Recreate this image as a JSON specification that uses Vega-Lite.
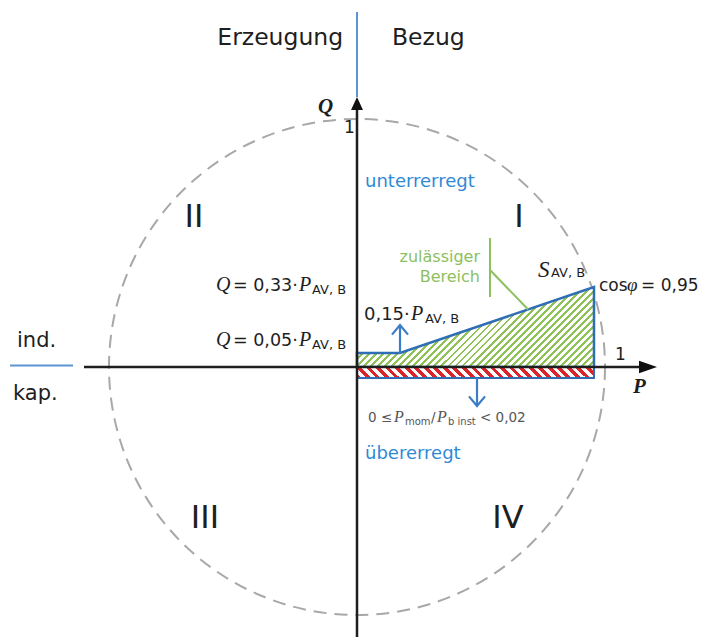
{
"$schema":"https://vega.github.io/schema/vega-lite/v6.json",
"width":704,"height":637,"padding":0,"autosize":{"type":"none"},
"background":"white",
"config":{"view":{"stroke":null}},
"encoding":{
 "x":{"field":"p","type":"quantitative","scale":{"domain":[-1.43952,1.39919],"nice":false,"zero":false},"axis":null},
 "y":{"field":"q","type":"quantitative","scale":{"domain":[-1.08871,1.47984],"nice":false,"zero":false},"axis":null}
},
"layer":[
 {"data":{"values":[{"p":0,"q":0}]},
  "mark":{"type":"point","shape":"circle","filled":false,"size":246016,"stroke":"#a8a8a8","strokeWidth":2,"strokeDash":[13,8],"opacity":1}},
 {"data":{"values":[{"p":0,"q":0.0565,"q2":0},{"p":0.1734,"q":0.0565,"q2":0},{"p":0.9556,"q":0.3226,"q2":0}]},
  "mark":{"type":"area","stroke":"#2f6db5","strokeWidth":2.5,"strokeJoin":"miter","opacity":1,
   "fill":{"gradient":"linear","x1":0,"y1":0,"x2":1.2007,"y2":0.4054,"stops":[
{"offset":0,"color":"#8ec255"},{"offset":0.0089,"color":"#8ec255"},{"offset":0.0089,"color":"#fff"},{"offset":0.0222,"color":"#fff"},
{"offset":0.0222,"color":"#8ec255"},{"offset":0.0311,"color":"#8ec255"},{"offset":0.0311,"color":"#fff"},{"offset":0.0444,"color":"#fff"},
{"offset":0.0444,"color":"#8ec255"},{"offset":0.0533,"color":"#8ec255"},{"offset":0.0533,"color":"#fff"},{"offset":0.0667,"color":"#fff"},
{"offset":0.0667,"color":"#8ec255"},{"offset":0.0756,"color":"#8ec255"},{"offset":0.0756,"color":"#fff"},{"offset":0.0889,"color":"#fff"},
{"offset":0.0889,"color":"#8ec255"},{"offset":0.0978,"color":"#8ec255"},{"offset":0.0978,"color":"#fff"},{"offset":0.1111,"color":"#fff"},
{"offset":0.1111,"color":"#8ec255"},{"offset":0.12,"color":"#8ec255"},{"offset":0.12,"color":"#fff"},{"offset":0.1333,"color":"#fff"},
{"offset":0.1333,"color":"#8ec255"},{"offset":0.1422,"color":"#8ec255"},{"offset":0.1422,"color":"#fff"},{"offset":0.1556,"color":"#fff"},
{"offset":0.1556,"color":"#8ec255"},{"offset":0.1644,"color":"#8ec255"},{"offset":0.1644,"color":"#fff"},{"offset":0.1778,"color":"#fff"},
{"offset":0.1778,"color":"#8ec255"},{"offset":0.1867,"color":"#8ec255"},{"offset":0.1867,"color":"#fff"},{"offset":0.2,"color":"#fff"},
{"offset":0.2,"color":"#8ec255"},{"offset":0.2089,"color":"#8ec255"},{"offset":0.2089,"color":"#fff"},{"offset":0.2222,"color":"#fff"},
{"offset":0.2222,"color":"#8ec255"},{"offset":0.2311,"color":"#8ec255"},{"offset":0.2311,"color":"#fff"},{"offset":0.2444,"color":"#fff"},
{"offset":0.2444,"color":"#8ec255"},{"offset":0.2533,"color":"#8ec255"},{"offset":0.2533,"color":"#fff"},{"offset":0.2667,"color":"#fff"},
{"offset":0.2667,"color":"#8ec255"},{"offset":0.2756,"color":"#8ec255"},{"offset":0.2756,"color":"#fff"},{"offset":0.2889,"color":"#fff"},
{"offset":0.2889,"color":"#8ec255"},{"offset":0.2978,"color":"#8ec255"},{"offset":0.2978,"color":"#fff"},{"offset":0.3111,"color":"#fff"},
{"offset":0.3111,"color":"#8ec255"},{"offset":0.32,"color":"#8ec255"},{"offset":0.32,"color":"#fff"},{"offset":0.3333,"color":"#fff"},
{"offset":0.3333,"color":"#8ec255"},{"offset":0.3422,"color":"#8ec255"},{"offset":0.3422,"color":"#fff"},{"offset":0.3556,"color":"#fff"},
{"offset":0.3556,"color":"#8ec255"},{"offset":0.3644,"color":"#8ec255"},{"offset":0.3644,"color":"#fff"},{"offset":0.3778,"color":"#fff"},
{"offset":0.3778,"color":"#8ec255"},{"offset":0.3867,"color":"#8ec255"},{"offset":0.3867,"color":"#fff"},{"offset":0.4,"color":"#fff"},
{"offset":0.4,"color":"#8ec255"},{"offset":0.4089,"color":"#8ec255"},{"offset":0.4089,"color":"#fff"},{"offset":0.4222,"color":"#fff"},
{"offset":0.4222,"color":"#8ec255"},{"offset":0.4311,"color":"#8ec255"},{"offset":0.4311,"color":"#fff"},{"offset":0.4444,"color":"#fff"},
{"offset":0.4444,"color":"#8ec255"},{"offset":0.4533,"color":"#8ec255"},{"offset":0.4533,"color":"#fff"},{"offset":0.4667,"color":"#fff"},
{"offset":0.4667,"color":"#8ec255"},{"offset":0.4756,"color":"#8ec255"},{"offset":0.4756,"color":"#fff"},{"offset":0.4889,"color":"#fff"},
{"offset":0.4889,"color":"#8ec255"},{"offset":0.4978,"color":"#8ec255"},{"offset":0.4978,"color":"#fff"},{"offset":0.5111,"color":"#fff"},
{"offset":0.5111,"color":"#8ec255"},{"offset":0.52,"color":"#8ec255"},{"offset":0.52,"color":"#fff"},{"offset":0.5333,"color":"#fff"},
{"offset":0.5333,"color":"#8ec255"},{"offset":0.5422,"color":"#8ec255"},{"offset":0.5422,"color":"#fff"},{"offset":0.5556,"color":"#fff"},
{"offset":0.5556,"color":"#8ec255"},{"offset":0.5644,"color":"#8ec255"},{"offset":0.5644,"color":"#fff"},{"offset":0.5778,"color":"#fff"},
{"offset":0.5778,"color":"#8ec255"},{"offset":0.5867,"color":"#8ec255"},{"offset":0.5867,"color":"#fff"},{"offset":0.6,"color":"#fff"},
{"offset":0.6,"color":"#8ec255"},{"offset":0.6089,"color":"#8ec255"},{"offset":0.6089,"color":"#fff"},{"offset":0.6222,"color":"#fff"},
{"offset":0.6222,"color":"#8ec255"},{"offset":0.6311,"color":"#8ec255"},{"offset":0.6311,"color":"#fff"},{"offset":0.6444,"color":"#fff"},
{"offset":0.6444,"color":"#8ec255"},{"offset":0.6533,"color":"#8ec255"},{"offset":0.6533,"color":"#fff"},{"offset":0.6667,"color":"#fff"},
{"offset":0.6667,"color":"#8ec255"},{"offset":0.6756,"color":"#8ec255"},{"offset":0.6756,"color":"#fff"},{"offset":0.6889,"color":"#fff"},
{"offset":0.6889,"color":"#8ec255"},{"offset":0.6978,"color":"#8ec255"},{"offset":0.6978,"color":"#fff"},{"offset":0.7111,"color":"#fff"},
{"offset":0.7111,"color":"#8ec255"},{"offset":0.72,"color":"#8ec255"},{"offset":0.72,"color":"#fff"},{"offset":0.7333,"color":"#fff"},
{"offset":0.7333,"color":"#8ec255"},{"offset":0.7422,"color":"#8ec255"},{"offset":0.7422,"color":"#fff"},{"offset":0.7556,"color":"#fff"},
{"offset":0.7556,"color":"#8ec255"},{"offset":0.7644,"color":"#8ec255"},{"offset":0.7644,"color":"#fff"},{"offset":0.7778,"color":"#fff"},
{"offset":0.7778,"color":"#8ec255"},{"offset":0.7867,"color":"#8ec255"},{"offset":0.7867,"color":"#fff"},{"offset":0.8,"color":"#fff"},
{"offset":0.8,"color":"#8ec255"},{"offset":0.8089,"color":"#8ec255"},{"offset":0.8089,"color":"#fff"},{"offset":0.8222,"color":"#fff"},
{"offset":0.8222,"color":"#8ec255"},{"offset":0.8311,"color":"#8ec255"},{"offset":0.8311,"color":"#fff"},{"offset":0.8444,"color":"#fff"},
{"offset":0.8444,"color":"#8ec255"},{"offset":0.8533,"color":"#8ec255"},{"offset":0.8533,"color":"#fff"},{"offset":0.8667,"color":"#fff"},
{"offset":0.8667,"color":"#8ec255"},{"offset":0.8756,"color":"#8ec255"},{"offset":0.8756,"color":"#fff"},{"offset":0.8889,"color":"#fff"},
{"offset":0.8889,"color":"#8ec255"},{"offset":0.8978,"color":"#8ec255"},{"offset":0.8978,"color":"#fff"},{"offset":0.9111,"color":"#fff"},
{"offset":0.9111,"color":"#8ec255"},{"offset":0.92,"color":"#8ec255"},{"offset":0.92,"color":"#fff"},{"offset":0.9333,"color":"#fff"},
{"offset":0.9333,"color":"#8ec255"},{"offset":0.9422,"color":"#8ec255"},{"offset":0.9422,"color":"#fff"},{"offset":0.9556,"color":"#fff"},
{"offset":0.9556,"color":"#8ec255"},{"offset":0.9644,"color":"#8ec255"},{"offset":0.9644,"color":"#fff"},{"offset":0.9778,"color":"#fff"},
{"offset":0.9778,"color":"#8ec255"},{"offset":0.9867,"color":"#8ec255"},{"offset":0.9867,"color":"#fff"},{"offset":1,"color":"#fff"}
]}},
  "encoding":{"y2":{"field":"q2"}}},
 {"data":{"values":[{"p":0,"p2":0.9556,"q":0,"q2":-0.044}]},
  "mark":{"type":"rect","stroke":"#2f6db5","strokeWidth":2,"opacity":1,
   "fill":{"gradient":"linear","x1":0,"y1":1,"x2":1.0442,"y2":0.9515,"stops":[
{"offset":0,"color":"#d8262b"},{"offset":0.0192,"color":"#d8262b"},{"offset":0.0192,"color":"#fff"},{"offset":0.0385,"color":"#fff"},
{"offset":0.0385,"color":"#d8262b"},{"offset":0.0577,"color":"#d8262b"},{"offset":0.0577,"color":"#fff"},{"offset":0.0769,"color":"#fff"},
{"offset":0.0769,"color":"#d8262b"},{"offset":0.0962,"color":"#d8262b"},{"offset":0.0962,"color":"#fff"},{"offset":0.1154,"color":"#fff"},
{"offset":0.1154,"color":"#d8262b"},{"offset":0.1346,"color":"#d8262b"},{"offset":0.1346,"color":"#fff"},{"offset":0.1538,"color":"#fff"},
{"offset":0.1538,"color":"#d8262b"},{"offset":0.1731,"color":"#d8262b"},{"offset":0.1731,"color":"#fff"},{"offset":0.1923,"color":"#fff"},
{"offset":0.1923,"color":"#d8262b"},{"offset":0.2115,"color":"#d8262b"},{"offset":0.2115,"color":"#fff"},{"offset":0.2308,"color":"#fff"},
{"offset":0.2308,"color":"#d8262b"},{"offset":0.25,"color":"#d8262b"},{"offset":0.25,"color":"#fff"},{"offset":0.2692,"color":"#fff"},
{"offset":0.2692,"color":"#d8262b"},{"offset":0.2885,"color":"#d8262b"},{"offset":0.2885,"color":"#fff"},{"offset":0.3077,"color":"#fff"},
{"offset":0.3077,"color":"#d8262b"},{"offset":0.3269,"color":"#d8262b"},{"offset":0.3269,"color":"#fff"},{"offset":0.3462,"color":"#fff"},
{"offset":0.3462,"color":"#d8262b"},{"offset":0.3654,"color":"#d8262b"},{"offset":0.3654,"color":"#fff"},{"offset":0.3846,"color":"#fff"},
{"offset":0.3846,"color":"#d8262b"},{"offset":0.4038,"color":"#d8262b"},{"offset":0.4038,"color":"#fff"},{"offset":0.4231,"color":"#fff"},
{"offset":0.4231,"color":"#d8262b"},{"offset":0.4423,"color":"#d8262b"},{"offset":0.4423,"color":"#fff"},{"offset":0.4615,"color":"#fff"},
{"offset":0.4615,"color":"#d8262b"},{"offset":0.4808,"color":"#d8262b"},{"offset":0.4808,"color":"#fff"},{"offset":0.5,"color":"#fff"},
{"offset":0.5,"color":"#d8262b"},{"offset":0.5192,"color":"#d8262b"},{"offset":0.5192,"color":"#fff"},{"offset":0.5385,"color":"#fff"},
{"offset":0.5385,"color":"#d8262b"},{"offset":0.5577,"color":"#d8262b"},{"offset":0.5577,"color":"#fff"},{"offset":0.5769,"color":"#fff"},
{"offset":0.5769,"color":"#d8262b"},{"offset":0.5962,"color":"#d8262b"},{"offset":0.5962,"color":"#fff"},{"offset":0.6154,"color":"#fff"},
{"offset":0.6154,"color":"#d8262b"},{"offset":0.6346,"color":"#d8262b"},{"offset":0.6346,"color":"#fff"},{"offset":0.6538,"color":"#fff"},
{"offset":0.6538,"color":"#d8262b"},{"offset":0.6731,"color":"#d8262b"},{"offset":0.6731,"color":"#fff"},{"offset":0.6923,"color":"#fff"},
{"offset":0.6923,"color":"#d8262b"},{"offset":0.7115,"color":"#d8262b"},{"offset":0.7115,"color":"#fff"},{"offset":0.7308,"color":"#fff"},
{"offset":0.7308,"color":"#d8262b"},{"offset":0.75,"color":"#d8262b"},{"offset":0.75,"color":"#fff"},{"offset":0.7692,"color":"#fff"},
{"offset":0.7692,"color":"#d8262b"},{"offset":0.7885,"color":"#d8262b"},{"offset":0.7885,"color":"#fff"},{"offset":0.8077,"color":"#fff"},
{"offset":0.8077,"color":"#d8262b"},{"offset":0.8269,"color":"#d8262b"},{"offset":0.8269,"color":"#fff"},{"offset":0.8462,"color":"#fff"},
{"offset":0.8462,"color":"#d8262b"},{"offset":0.8654,"color":"#d8262b"},{"offset":0.8654,"color":"#fff"},{"offset":0.8846,"color":"#fff"},
{"offset":0.8846,"color":"#d8262b"},{"offset":0.9038,"color":"#d8262b"},{"offset":0.9038,"color":"#fff"},{"offset":0.9231,"color":"#fff"},
{"offset":0.9231,"color":"#d8262b"},{"offset":0.9423,"color":"#d8262b"},{"offset":0.9423,"color":"#fff"},{"offset":0.9615,"color":"#fff"},
{"offset":0.9615,"color":"#d8262b"},{"offset":0.9808,"color":"#d8262b"},{"offset":0.9808,"color":"#fff"},{"offset":1,"color":"#fff"}
]}},
  "encoding":{"x2":{"field":"p2"},"y2":{"field":"q2"}}},
 {"data":{"values":[{"p":-1.1008,"p2":1.14,"q":0,"q2":0},{"p":0,"p2":0,"q":-1.0887,"q2":1.04}]},
  "mark":{"type":"rule","color":"#1e1e1e","strokeWidth":2.5},
  "encoding":{"x2":{"field":"p2"},"y2":{"field":"q2"}}},
 {"data":{"values":[{"p":0,"q":1.0887}]},
  "mark":{"type":"point","shape":"M0,0L-0.46,1L0.46,1Z","size":676,"filled":true,"color":"#111","opacity":1}},
 {"data":{"values":[{"p":1.2097,"q":0}]},
  "mark":{"type":"point","shape":"M0,0L-1,-0.35L-1,0.35Z","size":1296,"filled":true,"color":"#111","opacity":1}},
 {"data":{"values":[{"p":0,"p2":0,"q":1.0887,"q2":1.4315},{"p":-1.399,"p2":-1.145,"q":0.006,"q2":0.006}]},
  "mark":{"type":"rule","color":"#5b93d3","strokeWidth":2},
  "encoding":{"x2":{"field":"p2"},"y2":{"field":"q2"}}},
 {"data":{"values":[{"p":0.1734,"p2":0.1734,"q":0.0565,"q2":0.166},{"p":0.4839,"p2":0.4839,"q":-0.044,"q2":-0.154}]},
  "mark":{"type":"rule","color":"#3a7cc6","strokeWidth":2.2},
  "encoding":{"x2":{"field":"p2"},"y2":{"field":"q2"}}},
 {"data":{"values":[{"p":0.1734,"q":0.1694}]},
  "mark":{"type":"point","shape":"M-1,1.2L0,0L1,1.2","size":256,"filled":false,"stroke":"#3a7cc6","strokeWidth":2.2,"opacity":1}},
 {"data":{"values":[{"p":0.4839,"q":-0.1573}]},
  "mark":{"type":"point","shape":"M-1,-1.2L0,0L1,-1.2","size":256,"filled":false,"stroke":"#3a7cc6","strokeWidth":2.2,"opacity":1}},
 {"data":{"values":[{"p":0.5363,"p2":0.5363,"q":0.52,"q2":0.2823},{"p":0.5363,"p2":0.69,"q":0.3911,"q2":0.232}]},
  "mark":{"type":"rule","color":"#8dc05e","strokeWidth":2},
  "encoding":{"x2":{"field":"p2"},"y2":{"field":"q2"}}},
 {"data":{"values":[{"t":"Erzeugung","p":-0.5633,"q":1.2984},{"t":"Bezug","p":0.1411,"q":1.2984}]},
  "mark":{"type":"text","align":"left","baseline":"alphabetic","font":"DejaVu Sans","fontSize":23.5,"color":"#1e1e1e"},
  "encoding":{"text":{"field":"t"}}},
 {"data":{"values":[{"t":"ind.","p":-1.371,"q":0.0806},{"t":"kap.","p":-1.3871,"q":-0.1331}]},
  "mark":{"type":"text","align":"left","baseline":"alphabetic","font":"DejaVu Sans","fontSize":21,"color":"#1e1e1e"},
  "encoding":{"text":{"field":"t"}}},
 {"data":{"values":[{"t":"II","p":-0.6952,"q":0.5645},{"t":"I","p":0.6343,"q":0.5645},{"t":"III","p":-0.6702,"q":-0.6492},{"t":"IV","p":0.5456,"q":-0.6492}]},
  "mark":{"type":"text","align":"left","baseline":"alphabetic","font":"DejaVu Sans","fontSize":32,"color":"#1e1e1e"},
  "encoding":{"text":{"field":"t"}}},
 {"data":{"values":[{"t":"unterrerregt","p":0.0323,"q":0.7258},{"t":"übererregt","p":0.0323,"q":-0.371}]},
  "mark":{"type":"text","align":"left","baseline":"alphabetic","font":"DejaVu Sans","fontSize":18,"color":"#2f8ad6"},
  "encoding":{"text":{"field":"t"}}},
 {"data":{"values":[{"t":"zulässiger","p":0.496,"q":0.4234},{"t":"Bereich","p":0.496,"q":0.3427}]},
  "mark":{"type":"text","align":"right","baseline":"alphabetic","font":"DejaVu Sans","fontSize":16,"color":"#8dc05e"},
  "encoding":{"text":{"field":"t"}}},
 {"data":{"values":[{"t":"= 0,33·","p":-0.5,"q":0.3065},{"t":"= 0,05·","p":-0.5,"q":0.0847}]},
  "mark":{"type":"text","align":"left","baseline":"alphabetic","font":"DejaVu Sans","fontSize":17.5,"color":"#1e1e1e"},
  "encoding":{"text":{"field":"t"}}},
 {"data":{"values":[{"t":"0,15·","p":0.0282,"q":0.1895}]},
  "mark":{"type":"text","align":"left","baseline":"alphabetic","font":"DejaVu Sans","fontSize":18,"color":"#1e1e1e"},
  "encoding":{"text":{"field":"t"}}},
 {"data":{"values":[{"t":"Q","p":-0.5685,"q":0.3065},{"t":"Q","p":-0.5685,"q":0.0847},{"t":"P","p":-0.2339,"q":0.3065},{"t":"P","p":-0.2339,"q":0.0847},{"t":"P","p":0.2177,"q":0.1895}]},
  "mark":{"type":"text","align":"left","baseline":"alphabetic","font":"Liberation Serif","fontStyle":"italic","fontSize":20,"color":"#1e1e1e"},
  "encoding":{"text":{"field":"t"}}},
 {"data":{"values":[{"t":"AV, B","p":-0.1815,"q":0.2944},{"t":"AV, B","p":-0.1815,"q":0.0726},{"t":"AV, B","p":0.2742,"q":0.1774},{"t":"AV, B","p":0.7823,"q":0.3629}]},
  "mark":{"type":"text","align":"left","baseline":"alphabetic","font":"DejaVu Sans","fontSize":13,"color":"#1e1e1e"},
  "encoding":{"text":{"field":"t"}}},
 {"data":{"values":[{"t":"S","p":0.7298,"q":0.3629}]},
  "mark":{"type":"text","align":"left","baseline":"alphabetic","font":"Liberation Serif","fontStyle":"italic","fontSize":23,"color":"#1e1e1e"},
  "encoding":{"text":{"field":"t"}}},
 {"data":{"values":[{"t":"Q","p":-0.1573,"q":1.0242},{"t":"P","p":1.1129,"q":-0.1048}]},
  "mark":{"type":"text","align":"left","baseline":"alphabetic","font":"Liberation Serif","fontStyle":"italic","fontWeight":"bold","fontSize":21,"color":"#1e1e1e"},
  "encoding":{"text":{"field":"t"}}},
 {"data":{"values":[{"t":"1","p":-0.0524,"q":0.9435},{"t":"1","p":1.0403,"q":0.0282},{"t":"cos","p":0.9758,"q":0.3065},{"t":"= 0,95","p":1.1452,"q":0.3065}]},
  "mark":{"type":"text","align":"left","baseline":"alphabetic","font":"DejaVu Sans","fontSize":17,"color":"#1e1e1e"},
  "encoding":{"text":{"field":"t"}}},
 {"data":{"values":[{"t":"φ","p":1.0887,"q":0.3065}]},
  "mark":{"type":"text","align":"left","baseline":"alphabetic","font":"Liberation Serif","fontStyle":"italic","fontSize":19,"color":"#1e1e1e"},
  "encoding":{"text":{"field":"t"}}},
 {"data":{"values":[{"t":"0 ≤","p":0.0444,"q":-0.2218},{"t":"/","p":0.2984,"q":-0.2218},{"t":"< 0,02","p":0.496,"q":-0.2218}]},
  "mark":{"type":"text","align":"left","baseline":"alphabetic","font":"DejaVu Sans","fontSize":13.5,"color":"#555"},
  "encoding":{"text":{"field":"t"}}},
 {"data":{"values":[{"t":"P","p":0.1492,"q":-0.2218},{"t":"P","p":0.3226,"q":-0.2218}]},
  "mark":{"type":"text","align":"left","baseline":"alphabetic","font":"Liberation Serif","fontStyle":"italic","fontSize":16,"color":"#555"},
  "encoding":{"text":{"field":"t"}}},
 {"data":{"values":[{"t":"mom","p":0.1935,"q":-0.2339},{"t":"b inst","p":0.3669,"q":-0.2339}]},
  "mark":{"type":"text","align":"left","baseline":"alphabetic","font":"DejaVu Sans","fontSize":10,"color":"#555"},
  "encoding":{"text":{"field":"t"}}}
]
}
